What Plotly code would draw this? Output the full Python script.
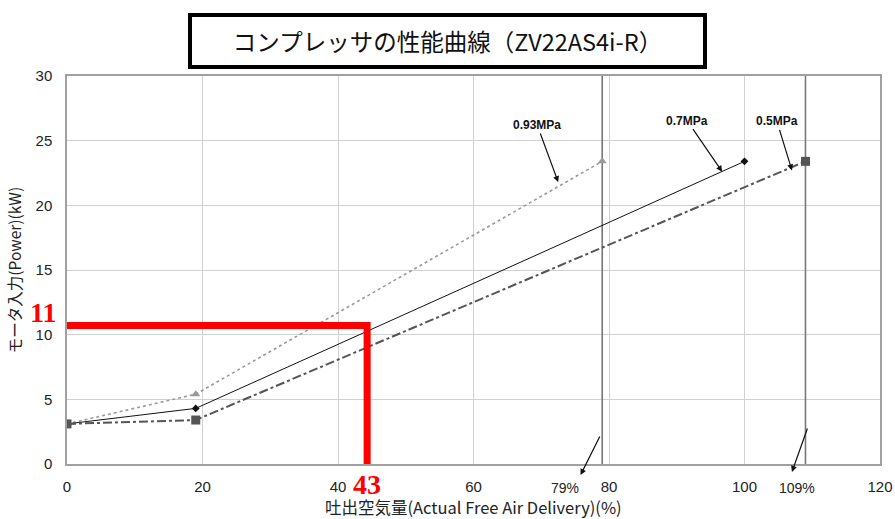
import plotly.graph_objects as go

# Data
x_093 = [0, 19, 79]
y_093 = [3.1, 5.4, 23.4]
x_07 = [0, 19, 100]
y_07 = [3.1, 4.3, 23.4]
x_05 = [0, 19, 109]
y_05 = [3.1, 3.4, 23.4]
limit_x = [79, 109]
limit_labels = ["79%", "109%"]
op_x = 44.3
op_y = 10.7
op_labels = ["11", "43"]
x_ticks = [0, 20, 40, 60, 80, 100, 120]
y_ticks = [0, 5, 10, 15, 20, 25, 30]

FONT = "Liberation Sans, Arial, sans-serif"
JP = "Noto Sans CJK JP, sans-serif"
SERIF = "Liberation Serif, Times New Roman, serif"

fig = go.Figure()

# limit vertical lines
for lx in limit_x:
    fig.add_trace(go.Scatter(x=[lx, lx], y=[0, 30], mode="lines",
                             line=dict(color="#777777", width=1.6),
                             hoverinfo="skip", showlegend=False))

fig.add_trace(go.Scatter(x=x_093, y=y_093, mode="lines+markers",
                         line=dict(color="#9a9a9a", width=1.6, dash="dot"),
                         marker=dict(symbol="triangle-up", size=8, color="#9a9a9a"),
                         showlegend=False))
fig.add_trace(go.Scatter(x=x_07, y=y_07, mode="lines+markers",
                         line=dict(color="#111111", width=1),
                         marker=dict(symbol="diamond", size=6, color="#111111"),
                         showlegend=False))
fig.add_trace(go.Scatter(x=x_05, y=y_05, mode="lines+markers",
                         line=dict(color="#555555", width=2, dash="dashdot"),
                         marker=dict(symbol="square", size=9, color="#555555"),
                         showlegend=False))

# red operating point lines
fig.add_trace(go.Scatter(x=[0, op_x, op_x], y=[op_y, op_y, 0], mode="lines",
                         line=dict(color="#ff0000", width=7),
                         hoverinfo="skip", showlegend=False))

LBL_Y = -0.062  # paper y for labels below the x axis

arrow = dict(showarrow=True, arrowhead=2, arrowsize=1, arrowwidth=1.2, arrowcolor="#111111")
small = dict(family=FONT, size=12, color="#111111")

annotations = [
    dict(x=0.4677, y=1.09, xref="paper", yref="paper",
         text="コンプレッサの性能曲線（ZV22AS4i-R）", showarrow=False,
         font=dict(family=JP, size=23.5, color="#111111"),
         bordercolor="#000000", borderwidth=4, width=509, height=46,
         bgcolor="white", xanchor="center", yanchor="middle"),
    # x axis title
    dict(x=0.5, y=-0.112, xref="paper", yref="paper",
         text="吐出空気量(Actual Free Air Delivery)(%)", showarrow=False,
         xanchor="center", yanchor="middle",
         font=dict(family=JP, size=16.5, color="#222222")),
    # pressure labels with arrows
    dict(x=72.5, y=21.8, text="<b>0.93MPa</b>", ax=-21, ay=-57, font=small, **arrow),
    dict(x=96.7, y=22.6, text="<b>0.7MPa</b>", ax=-35, ay=-51, font=small, **arrow),
    dict(x=107.0, y=22.7, text="<b>0.5MPa</b>", ax=-15, ay=-49, font=small, **arrow),
    # limit arrows (head below axis, tail on the limit line)
    dict(x=75.8, y=-0.0284, yref="paper", ax=20, ay=-40, text="", **arrow),
    dict(x=107.0, y=-0.0206, yref="paper", ax=16, ay=-45, text="", **arrow),
    dict(x=73.5, y=LBL_Y, yref="paper", text=limit_labels[0], showarrow=False,
         xanchor="center", yanchor="middle",
         font=dict(family=FONT, size=14, color="#222222")),
    dict(x=107.7, y=LBL_Y, yref="paper", text=limit_labels[1], showarrow=False,
         xanchor="center", yanchor="middle",
         font=dict(family=FONT, size=14, color="#222222")),
    # red labels
    dict(x=-0.0290, y=11.75, xref="paper", text="<b>" + op_labels[0] + "</b>",
         showarrow=False, xanchor="center", yanchor="middle",
         font=dict(family=SERIF, size=28, color="#ff0000")),
    dict(x=op_x, y=-0.054, yref="paper", text="<b>" + op_labels[1] + "</b>",
         showarrow=False, xanchor="center", yanchor="middle",
         font=dict(family=SERIF, size=28, color="#ff0000")),
]

fig.update_layout(
    width=895, height=519,
    margin=dict(l=67, r=15, t=76, b=55),
    paper_bgcolor="white", plot_bgcolor="white",
    annotations=annotations,
    xaxis=dict(range=[0, 120], tickvals=x_ticks, showgrid=True, gridcolor="#d0d0d0",
               gridwidth=1, zeroline=False, showline=True, linecolor="#a0a0a0",
               linewidth=1.5, mirror=True, ticks="", ticklen=0, automargin=False,
               ticklabelstandoff=8,
               tickfont=dict(family=FONT, size=15, color="#222222")),
    yaxis=dict(range=[0, 30], tickvals=y_ticks, showgrid=True, gridcolor="#d0d0d0",
               gridwidth=1, zeroline=False, showline=True, linecolor="#a0a0a0",
               linewidth=1.5, mirror=True, ticks="", ticklen=0, automargin=False,
               ticklabelstandoff=10,
               tickfont=dict(family=FONT, size=15, color="#222222"),
               title=dict(text="モータ入力(Power)(kW)",
                          font=dict(family=JP, size=15.5, color="#222222"), standoff=10)),
)

# remove the default page margin so the 895x519 figure fills the window exactly
fig.write_html("out.html", config={"displayModeBar": False},
               post_script="document.body.style.margin='0';document.body.style.overflow='hidden';")
